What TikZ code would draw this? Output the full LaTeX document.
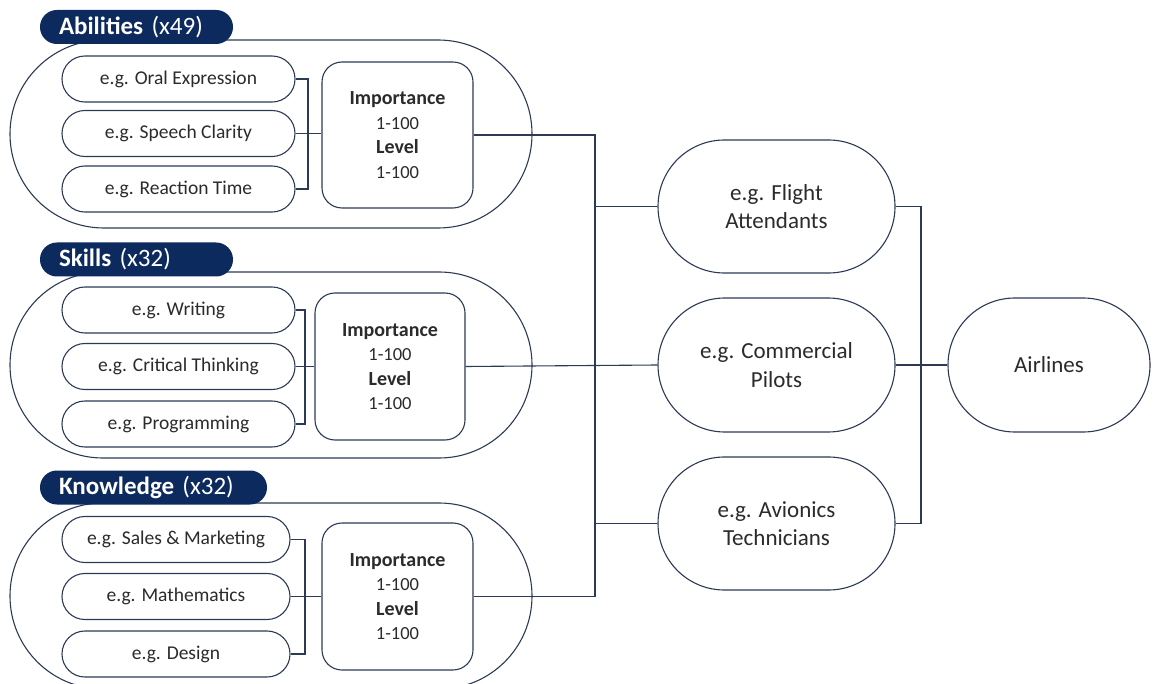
\documentclass[tikz,border=0pt]{standalone}
\usepackage{fontspec}
\setmainfont{Carlito}
\usetikzlibrary{calc}
\definecolor{navy}{HTML}{0D2A5E}
\definecolor{edge}{HTML}{2C3A55}
\definecolor{txt}{HTML}{2B2B2B}
\begin{document}
\begin{tikzpicture}[x=1pt,y=-1pt,
  line width=1.1pt,
  outer/.style={draw=edge,rectangle,rounded corners=92.9pt,minimum width=522pt,minimum height=186pt,inner sep=0pt},
  item/.style={draw=edge,fill=white,rectangle,rounded corners=22.9pt,minimum width=233pt,minimum height=46pt,inner sep=0pt,font=\fontsize{19.5}{23}\selectfont,text=txt},
  imp/.style={draw=edge,fill=white,rectangle,rounded corners=20pt,minimum width=151pt,minimum height=146pt,inner sep=0pt,align=center,font=\fontsize{18.5}{24.5}\selectfont,text=txt},
  head/.style={fill=navy,rectangle,rounded corners=16.9pt,minimum height=34pt,inner ysep=0pt,inner xsep=19pt,align=left,text=white,font=\fontsize{25}{28}\selectfont},
  occ/.style={draw=edge,fill=white,rectangle,rounded corners=66.4pt,minimum width=237pt,minimum height=133pt,inner sep=0pt,align=center,font=\fontsize{23}{28.5}\selectfont,text=txt},
  conn/.style={draw=edge,line width=1.1pt}
]
\useasboundingbox (0,0) rectangle (1153,684);
% ---------- Abilities
\node[outer,minimum height=188pt,rounded corners=93.9pt] (abo) at (271,134) {};
\node[head,text width=155pt] (abh) at (136.5,27) {\textbf{Abilities} (x49)};
\node[item] (ab1) at (178.5,79) {e.g. Oral Expression};
\node[item] (ab2) at (178.5,133.5) {e.g. Speech Clarity};
\node[item] (ab3) at (178.5,189) {e.g. Reaction Time};
\node[imp] (abi) at (397.5,135) {\textbf{\fontsize{20}{24.5}\selectfont Importance}\\1-100\\\textbf{\fontsize{20}{24.5}\selectfont Level}\\1-100};
\coordinate (abx) at (308,0);
% ---------- Skills
\node[outer] (sko) at (271,365) {};
\node[head,text width=155pt] (skh) at (136.5,259.5) {\textbf{Skills} (x32)};
\node[item] (sk1) at (178.5,310) {e.g. Writing};
\node[item] (sk2) at (178.5,366.5) {e.g. Critical Thinking};
\node[item] (sk3) at (178.5,424) {e.g. Programming};
\node[imp,minimum width=150pt,minimum height=147pt] (ski) at (390,366.5) {\textbf{\fontsize{20}{24.5}\selectfont Importance}\\1-100\\\textbf{\fontsize{20}{24.5}\selectfont Level}\\1-100};
\coordinate (skx) at (305,0);
% ---------- Knowledge
\node[outer] (kno) at (271,596) {};
\node[head,text width=189pt] (knh) at (153.5,487.5) {\textbf{Knowledge} (x32)};
\node[item,minimum width=228pt] (kn1) at (176,539.5) {e.g. Sales \& Marketing};
\node[item,minimum width=228pt] (kn2) at (176,596.5) {e.g. Mathematics};
\node[item,minimum width=228pt] (kn3) at (176,654) {e.g. Design};
\node[imp,minimum height=147pt] (kni) at (397.5,596.5) {\textbf{\fontsize{20}{24.5}\selectfont Importance}\\1-100\\\textbf{\fontsize{20}{24.5}\selectfont Level}\\1-100};
\coordinate (knx) at (305,0);
% ---------- Occupations
\node[occ] (fa) at (776.5,206.5) {e.g. Flight\\Attendants};
\node[occ,minimum height=134pt,rounded corners=66.9pt] (cp) at (776.5,365) {e.g. Commercial\\Pilots};
\node[occ] (av) at (776.5,523.5) {e.g. Avionics\\Technicians};
\node[occ,minimum width=202pt,minimum height=134pt,rounded corners=66.9pt] (air) at (1049,365) {Airlines};
\coordinate (bus) at (595,0);
\coordinate (rbus) at (921,0);
% ---------- connectors
\draw[conn] (ab1.east) -- (ab1.east -| abx) -- (ab3.east -| abx) -- (ab3.east);
\draw[conn] (ab2.east) -- (ab2.east -| abi.west);
\draw[conn] (sk1.east) -- (sk1.east -| skx) -- (sk3.east -| skx) -- (sk3.east);
\draw[conn] (sk2.east) -- (sk2.east -| ski.west);
\draw[conn] (kn1.east) -- (kn1.east -| knx) -- (kn3.east -| knx) -- (kn3.east);
\draw[conn] (kn2.east) -- (kn2.east -| kni.west);
\draw[conn] (abi.east) -| (kni.east -| bus) -- (kni.east);
\draw[conn] (ski.east) -- (cp.west);
\draw[conn] (fa.west) -- (fa.west -| bus);
\draw[conn] (av.west) -- (av.west -| bus);
\draw[conn] (fa.east) -| (av.east -| rbus) -- (av.east);
\draw[conn] (cp.east) -- (air.west);
\end{tikzpicture}
\end{document}
